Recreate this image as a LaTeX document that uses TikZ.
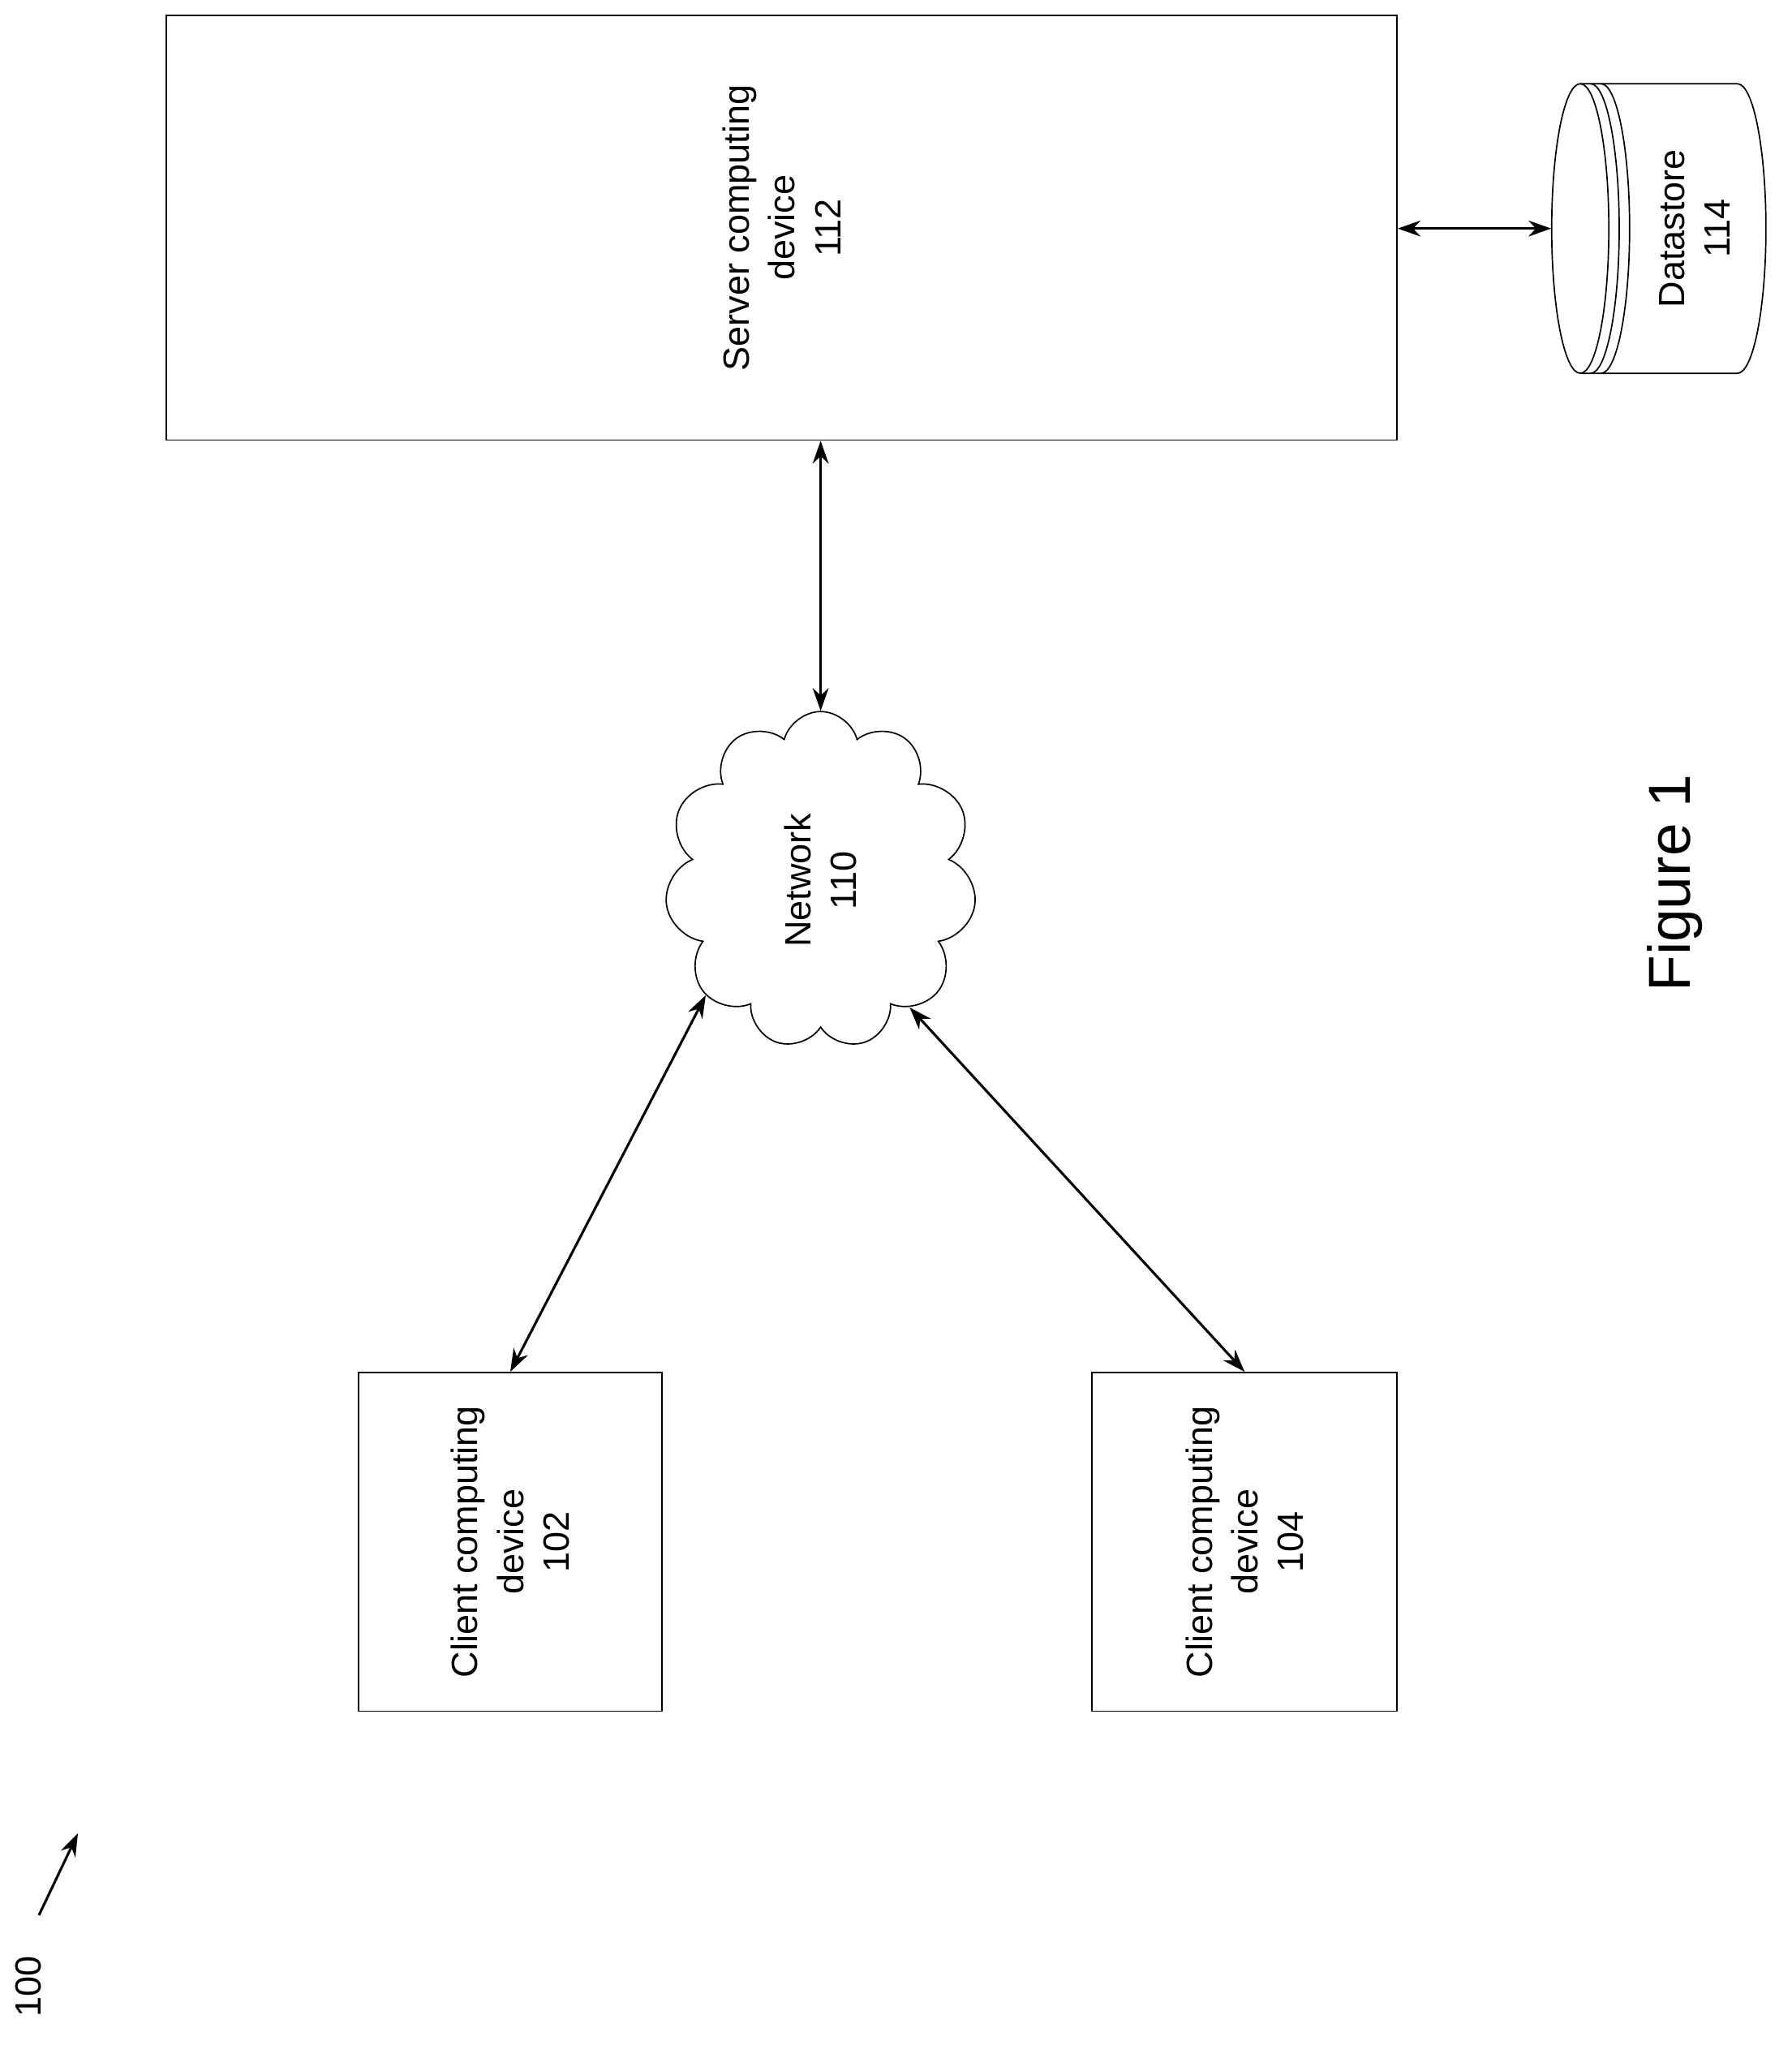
\documentclass[tikz,border=0pt]{standalone}
\usepackage{fontspec}
\setmainfont{Liberation Sans}
\usetikzlibrary{shapes.symbols,arrows.meta}
\begin{document}
\begin{tikzpicture}[x=0.02cm,y=-0.02cm]
\tikzset{box/.style={draw,line width=0.6pt,inner sep=0pt},
  lbl/.style={rotate=90,align=center,font=\fontsize{16}{20}\selectfont},
  link/.style={line width=1.1pt,{Stealth[length=10pt,width=7pt]}-{Stealth[length=10pt,width=7pt]}}}
\useasboundingbox (0,0) rectangle (1380,1575);
% boxes
\node [box,minimum width=18.96cm,minimum height=6.54cm] (srv) at (602,175.5) {};
\node [lbl] (srvtxt) at (srv.center) {Server computing\\device\\112};
\node [box,minimum width=4.68cm,minimum height=5.22cm] (cla) at (393,1187.5) {};
\node [lbl] (clatxt) at (cla.center) {Client computing\\device\\102};
\node [box,minimum width=4.7cm,minimum height=5.22cm] (clb) at (958.5,1187.5) {};
\node [lbl] (clbtxt) at (clb.center) {Client computing\\device\\104};
% datastore
\node [inner sep=0pt,minimum width=3.3cm,minimum height=4.46cm] (ds) at (1277.5,176) {};
\draw [line width=0.6pt] (1217,64.5) -- (1338,64.5) arc[x radius=22,y radius=111.5,start angle=-90,end angle=90] -- (1217,287.5);
\draw [line width=0.6pt] (1217,176) ellipse[x radius=22,y radius=111.5];
\draw [line width=0.6pt] (1225,64.5) arc[x radius=22,y radius=111.5,start angle=-90,end angle=90];
\draw [line width=0.6pt] (1233,64.5) arc[x radius=22,y radius=111.5,start angle=-90,end angle=90];
\node [lbl] (dstxt) at (1305,176) {Datastore\\114};
% network
\node [box,cloud,cloud puffs=11,aspect=0.92,minimum width=4.8cm,minimum height=5.2cm] (net) at (632,678) {};
\node [lbl] (nettxt) at (net.center) {Network\\110};
% links
\draw [link] (net.north) -- (net.north |- srv.south);
\draw [link] (srv.east |- ds.west) -- (ds.west);
\draw [link] (net.225) -- (cla.north);
\draw [link] (net.305) -- (clb.north);
% labels
\node [rotate=90,font=\fontsize{26}{30}\selectfont] (fig) at (1290,680) {Figure 1};
\node [rotate=90,font=\fontsize{16}{20}\selectfont] (ref) at (22,1530) {100};
\coordinate (reftail) at (30,1475);
\coordinate (refhead) at (60,1412);
\draw [line width=1.1pt,-{Stealth[length=10pt,width=7pt]}] (reftail) -- (refhead);
\end{tikzpicture}
\end{document}
